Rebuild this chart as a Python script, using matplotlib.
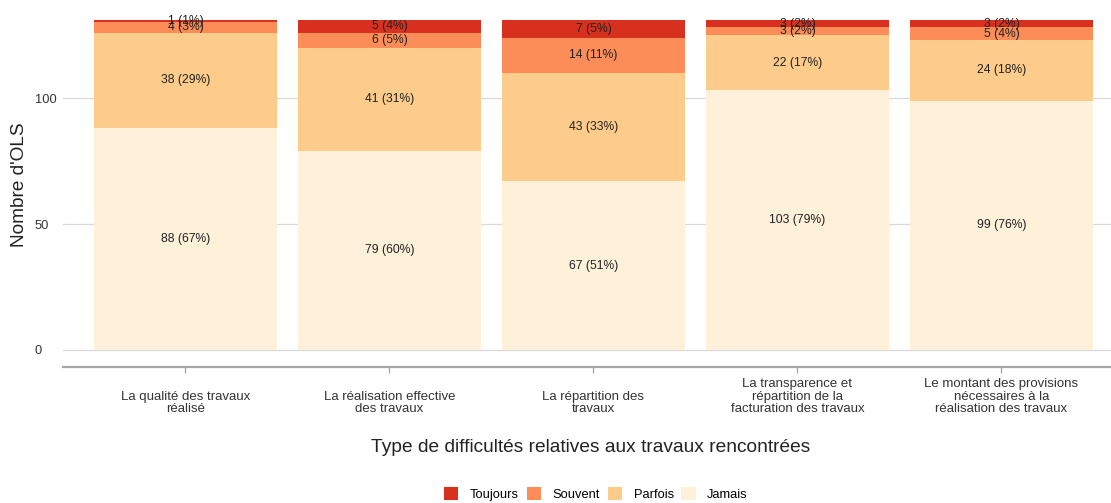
import matplotlib
matplotlib.use("Agg")
import matplotlib.pyplot as plt
from matplotlib.patches import Patch
import numpy as np

plt.rcParams['font.family'] = ['Liberation Sans', 'DejaVu Sans']

categories = [
    "La qualité des travaux\nréalisé",
    "La réalisation effective\ndes travaux",
    "La répartition des\ntravaux",
    "La transparence et\nrépartition de la\nfacturation des travaux",
    "Le montant des provisions\nnécessaires à la\nréalisation des travaux",
]
series_names = ["Jamais", "Parfois", "Souvent", "Toujours"]
jamais = [88, 79, 67, 103, 99]
parfois = [38, 41, 43, 22, 24]
souvent = [4, 6, 14, 3, 5]
toujours = [1, 5, 7, 3, 3]
colors = {"Toujours": "#D7301F", "Souvent": "#FC8D59", "Parfois": "#FDCC8A", "Jamais": "#FEF0D9"}

W, H = 1111, 503
fig = plt.figure(figsize=(W / 100, H / 100), dpi=100)
ax_left, ax_right, ax_top, ax_bot = 63, 1111, 3.4, 366.5
ax = fig.add_axes([ax_left / W, 1 - ax_bot / H, (ax_right - ax_left) / W, (ax_bot - ax_top) / H])

x = np.arange(1, len(categories) + 1)
data = [jamais, parfois, souvent, toujours]
totals = np.sum(data, axis=0)
bottom = np.zeros(len(categories))
for name, vals in zip(series_names, data):
    vals = np.array(vals, dtype=float)
    ax.bar(x, vals, bottom=bottom, width=0.9, color=colors[name], linewidth=0, zorder=2)
    for xi, b, v, t in zip(x, bottom, vals, totals):
        ax.text(xi, b + v / 2, f"{int(v)} ({round(100 * v / t):.0f}%)", ha='center', va='center',
                fontsize=8.7, color='#222222', zorder=3)
    bottom += vals

ymax = totals.max()
ax.set_ylim(-0.05 * ymax, 1.05 * ymax)
ax.set_xlim(0.4, 0.4 + (ax_right - ax_left) / 204.0)

for s in ['top', 'right', 'left']:
    ax.spines[s].set_visible(False)
ax.spines['bottom'].set_color('#A6A6A6')
ax.spines['bottom'].set_linewidth(1.6)

ax.set_yticks([0, 50, 100])
ax.set_yticklabels(["0", "50", "100"], ha='left')
ax.tick_params(axis='y', length=0, pad=20.2, labelsize=9.3, labelcolor='#333333')
ax.grid(axis='y', color='#D9D9D9', linewidth=0.9, zorder=0)
ax.set_axisbelow(True)

ax.set_xticks(x)
ax.set_xticklabels(categories, va='bottom', linespacing=1.05)
ax.tick_params(axis='x', length=4, width=0.9, color='#A6A6A6', direction='out',
               pad=31, labelsize=9.5, labelcolor='#333333')

ax.set_ylabel("Nombre d'OLS", fontsize=13.7, color='#222222')
ax.yaxis.set_label_coords((28 - ax_left) / (ax_right - ax_left), 0.5)

fig.text(591 / W, 1 - 448 / H, "Type de difficultés relatives aux travaux rencontrées",
         ha='center', va='center', fontsize=13.8, color='#222222')

handles = [Patch(facecolor=colors[n], edgecolor='none', label=n) for n in ["Toujours", "Souvent", "Parfois", "Jamais"]]
fig.legend(handles=handles, loc='center', bbox_to_anchor=(596 / W, 1 - 494 / H), ncol=4,
           frameon=False, fontsize=9.3, handlelength=1.1, handleheight=1.1,
           handletextpad=0.9, columnspacing=0.6, borderpad=0, borderaxespad=0)

fig.savefig("out.png", dpi=100)
